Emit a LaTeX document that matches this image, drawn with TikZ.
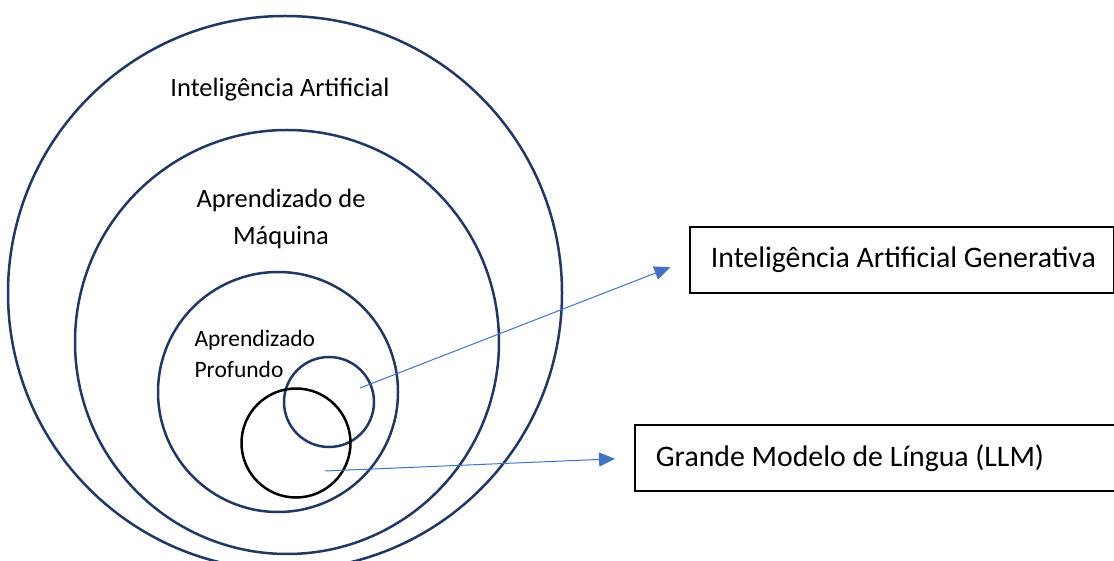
\documentclass[tikz,border=0pt]{standalone}
\usepackage{fontspec}
\setmainfont{Carlito}
\usepackage{tikz}
\usetikzlibrary{arrows.meta}

\definecolor{ringnavy}{HTML}{1F3864}
\definecolor{arrowblue}{HTML}{4472C4}

\tikzset{
    ring/.style={circle,draw=ringnavy,line width=2.5pt,inner sep=0pt},
    labelbox/.style={draw=black,line width=1.8pt,inner xsep=21pt,anchor=west,
        minimum height=66pt,align=flush left,font=\fontsize{29.8}{35}\selectfont},
    pointer/.style={draw=arrowblue,line width=1pt,
        -{Triangle[length=16pt,width=14pt]}}
}

\begin{document}
\begin{tikzpicture}[x=1pt,y=1pt]
    \clip (0,0) rectangle (1114,560);
    \fill[white] (0,0) rectangle (1114,560);

    \node[ring,minimum size=554pt] (ai) at (285,267) {};
    \node[ring,minimum size=424pt] (ml) at (287,218) {};
    \node[ring,minimum size=240pt] (dl) at (278,168) {};
    \node[ring,minimum size=90pt] (gen) at (329,158) {};
    \node[ring,draw=black,minimum size=109pt] (llm) at (296,117) {};

    \node[font=\fontsize{26.5}{37}\selectfont] (ailabel) at (280,470) {Inteligência Artificial};
    \node[font=\fontsize{26.5}{37}\selectfont,align=center] (mllabel) at (281,341) {Aprendizado de\\Máquina};
    \node[font=\fontsize{23.5}{31}\selectfont,align=left,anchor=west] (dllabel) at (191,206) {Aprendizado\\Profundo};

    \node[labelbox,text width=382pt] (genbox) at (689,300) {\mbox{Inteligência Artificial Generativa}};
    \node[labelbox,text width=448pt] (llmbox) at (634,102) {\mbox{Grande Modelo de Língua (LLM)}};

    \coordinate (genstart) at (360,172);
    \coordinate (llmstart) at (325,89);
    \draw[pointer,shorten >=20pt] (genstart) -- (genbox.west);
    \draw[pointer,shorten >=19pt] (llmstart) -- (llmbox.west);
\end{tikzpicture}
\end{document}
